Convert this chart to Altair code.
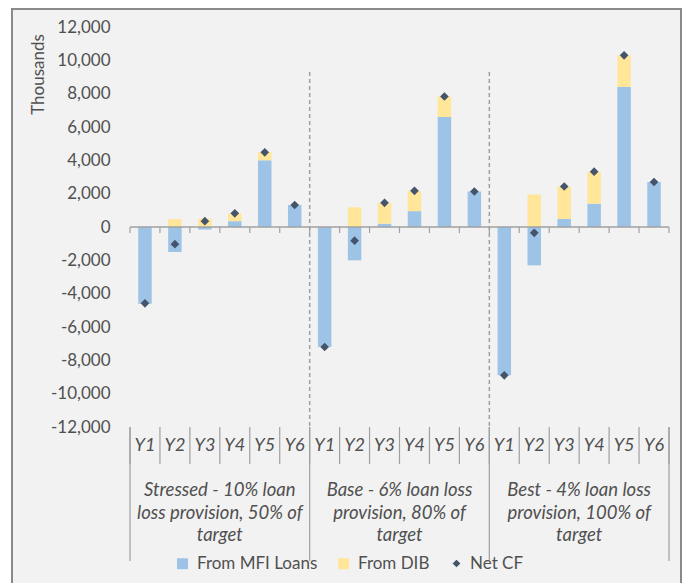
import altair as alt
import pandas as pd

# ---------------- data ----------------
years = ["Y1", "Y2", "Y3", "Y4", "Y5", "Y6"]
groups = ["Stressed", "Base", "Best"]
group_labels = [
    "Stressed - 10% loan\nloss provision, 50% of\ntarget",
    "Base - 6% loan loss\nprovision, 80% of\ntarget",
    "Best - 4% loan loss\nprovision, 100% of\ntarget",
]
series_names = ["From MFI Loans", "From DIB"]
net_name = "Net CF"

mfi_stressed = [-4600, -1500, -150, 350, 4000, 1320]
dib_stressed = [0, 470, 500, 470, 500, 0]
net_stressed = [-4580, -1030, 350, 820, 4480, 1320]

mfi_base = [-7200, -2000, 200, 950, 6600, 2130]
dib_base = [0, 1180, 1250, 1220, 1230, 0]
net_base = [-7200, -820, 1450, 2170, 7830, 2130]

mfi_best = [-8900, -2300, 480, 1400, 8400, 2700]
dib_best = [0, 1950, 1950, 1920, 1900, 0]
net_best = [-8900, -350, 2430, 3320, 10300, 2700]

y_ticks = list(range(-12000, 12001, 2000))

# ---------------- tables ----------------
mfi_all = [mfi_stressed, mfi_base, mfi_best]
dib_all = [dib_stressed, dib_base, dib_best]
net_all = [net_stressed, net_base, net_best]

keys = [f"{g}|{y}" for g in groups for y in years]

bar_rows, net_rows = [], []
for gi, g in enumerate(groups):
    for yi, y in enumerate(years):
        k = f"{g}|{y}"
        bar_rows.append(dict(key=k, series=series_names[0], value=mfi_all[gi][yi], order=0))
        bar_rows.append(dict(key=k, series=series_names[1], value=dib_all[gi][yi], order=1))
        net_rows.append(dict(key=k, label=net_name, value=net_all[gi][yi]))
bars_df = pd.DataFrame(bar_rows)
net_df = pd.DataFrame(net_rows)

bound_df = pd.DataFrame({"key": keys})
last_df = pd.DataFrame({"key": [keys[-1]]})
group_start_df = pd.DataFrame({"key": [f"{g}|{years[0]}" for g in groups]})
group_mid_df = pd.DataFrame({"key": [f"{g}|{years[3]}" for g in groups], "text": group_labels})
bg_df = pd.DataFrame({"key": [keys[0]]})

# ---------------- style ----------------
FONT = "Lato"
TXT = "#505050"
GRID = "#a0a0a0"
W, H = 539, 400

xscale = alt.Scale(domain=keys, paddingInner=0, paddingOuter=0)
yscale = alt.Scale(domain=[-12000, 12000], nice=False, zero=False)

x_axis = alt.Axis(
    title=None, domain=False, ticks=False, grid=False, labelAngle=0,
    labelExpr="split(datum.value, '|')[1]",
    labelFont=FONT, labelFontSize=18, labelFontStyle="italic",
    labelColor=TXT, labelPadding=18, labelBaseline="middle",
    zindex=2,
)
y_axis = alt.Axis(
    values=y_ticks, format=",.0f",
    labelExpr="(datum.value < 0 ? '-' : '') + format(abs(datum.value), ',.0f')",
    domain=False, ticks=False, tickSize=0,
    grid=False, labelFont=FONT, labelFontSize=17, labelColor=TXT,
    labelPadding=20, labelOverlap=False, zindex=2,
    title="Thousands", titleAngle=270, titleX=-92, titleY=47,
    titleAlign="center", titleBaseline="middle", titleFont=FONT,
    titleFontSize=17, titleFontWeight="normal", titleColor=TXT,
)


def X(band=None):
    if band is None:
        return alt.X("key:N", scale=xscale, sort=keys, axis=x_axis)
    return alt.X("key:N", scale=xscale, sort=keys, axis=x_axis, bandPosition=band)


def Yd(v):
    return alt.Y(datum=v, type="quantitative", scale=yscale, axis=y_axis, title="Thousands")


background = alt.Chart(bg_df).mark_rect(
    fill="#f2f2f2", stroke="#8a8a8a", strokeWidth=2
).encode(
    x=alt.value(-118), x2=alt.value(551), y=alt.value(-18), y2=alt.value(600)
)

bars = alt.Chart(bars_df).mark_bar(width=alt.RelativeBandSize(0.45)).encode(
    x=X(),
    y=alt.Y("value:Q", stack="zero", scale=yscale, axis=y_axis, title="Thousands"),
    order=alt.Order("order:Q"),
    color=alt.Color(
        "series:N",
        scale=alt.Scale(domain=series_names, range=["#9dc3e6", "#ffe699"]),
        legend=alt.Legend(
            title=None, orient="none", legendX=44, legendY=528,
            direction="horizontal", symbolType="square", symbolSize=120,
            symbolStrokeWidth=0, labelFont=FONT, labelFontSize=17,
            labelColor=TXT, columnPadding=17, padding=0, labelOffset=6,
        ),
    ),
)

zero_line = alt.Chart(bg_df).mark_rule(color=GRID, strokeWidth=1.5).encode(
    y=Yd(0), x=alt.value(0), x2=alt.value(W)
)


def rules(df, band, yv, off):
    return alt.Chart(df).mark_rule(color=GRID, strokeWidth=1.2, y2Offset=off).encode(
        x=X(band),
        y=Yd(yv),
        y2=alt.Y2(datum=yv),
    )


zero_ticks = rules(bound_df, 0, 0, 6) + rules(last_df, 1, 0, 6)
label_seps = rules(bound_df, 0, -12000, 37) + rules(last_df, 1, -12000, 37)
group_seps = rules(group_start_df, 0, -12000, 134) + rules(last_df, 1, -12000, 134)
dashed = alt.Chart(group_start_df.iloc[1:]).mark_rule(
    color=GRID, strokeWidth=1.5, strokeDash=[4, 3]
).encode(
    x=X(0),
    y=Yd(9300),
    y2=alt.Y2(datum=-12000),
)

group_text = alt.Chart(group_mid_df).mark_text(
    font=FONT, fontSize=18.5, fontStyle="italic", color=TXT,
    lineBreak="\n", lineHeight=22.5, baseline="top", align="center",
).encode(
    x=X(0),
    y=alt.value(454),
    text="text:N",
)

points = alt.Chart(net_df).mark_point(
    filled=True, size=75, color="#44546a", opacity=1
).encode(
    x=X(),
    y=alt.Y("value:Q", scale=yscale, axis=y_axis, title="Thousands"),
    shape=alt.Shape(
        "label:N",
        scale=alt.Scale(domain=[net_name], range=["diamond"]),
        legend=alt.Legend(
            title=None, orient="none", legendX=318, legendY=528,
            symbolSize=60, symbolFillColor="#44546a", symbolStrokeColor="#44546a",
            labelFont=FONT, labelFontSize=17, labelColor=TXT, padding=0,
            labelOffset=5,
        ),
    ),
)

chart = alt.layer(
    background, bars, zero_line, zero_ticks, label_seps, group_seps, dashed,
    group_text, points,
).properties(
    width=W, height=H,
    autosize=alt.AutoSizeParams(type="none"),
    padding={"left": 130, "top": 27, "right": 15, "bottom": 156},
    background="white",
).configure_view(stroke=None)

chart.save("out.html", embed_options={"renderer": "svg", "actions": False})
